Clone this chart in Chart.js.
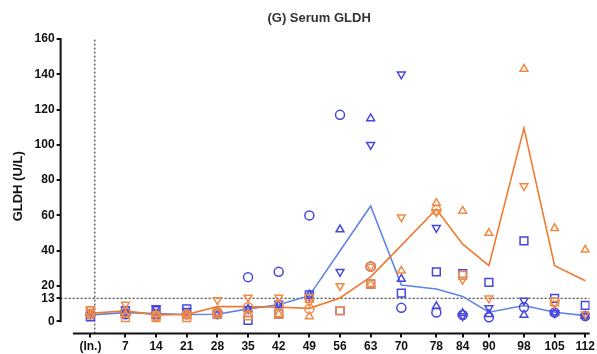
<!DOCTYPE html>
<html>
<head>
<meta charset="utf-8">
<script src="https://cdn.jsdelivr.net/npm/chart.js@4.4.1/dist/chart.umd.min.js"></script>
<style>
  body { margin: 0; background: #fff; }
</style>
</head>
<body>
<canvas id="gldhChart" width="597" height="354"></canvas>
<script>
// days after inoculation; -1 stands for the (In.) baseline
const days = [-1, 7, 14, 21, 28, 35, 42, 49, 56, 63, 70, 78, 84, 90, 98, 105, 112];

const yTicks = [0, 13, 20, 40, 60, 80, 100, 120, 140, 160];

// blue group, individual animals
const blueCircle   = [4, 4, 4, 4, 5, 25, 28, 60, 117, 31, 7.6, 5, 3.5, 2.3, 7.9, 5, 3];
const blueSquare   = [2.5, 6, 6, 7, 4, 0.5, 4, 15, 6, 21, 16, 28, 27, 22, 45.6, 13, 9];
const blueTriUp    = [4, 5, 3, 3, 4, 7, 9, 15, 52, 115, 24, 8.5, 4.5, 4, 3.6, 5, 3];
const blueTriDown  = [5, 5, 7.5, 6, 4, 7, 10, 14, 28, 100, 140, 53, 3, 7.5, 11.7, 4.7, 3];
const blueLine     = [3.6, 4.9, 4.3, 3.8, 4, 7, 9.4, 14.5, 40, 65.3, 20.5, 18.3, 14.1, 5.1, 8.9, 5.1, 3.2];

// orange group, individual animals
const orangeCircle  = [4, 5, 3, 4, 5, 8, 9, 7, null, 31, null, 63, null, null, null, null, null];
const orangeSquare  = [6, 2, 2, 2, 4, 3, 4, 13, 6, 21, null, null, 26, null, null, 11, null];
const orangeTriUp   = [4, 4, 4, 3, 5, 4, 4, 2.7, null, 21, 28.6, 67, 62.5, 50, 143, 52.7, 40.5];
const orangeTriDown = [7, 9.5, 4, 4, 12, 13.5, 13.5, 11, 20, 31, 59, 62, 23.5, 13, 76.6, 10, 4];
const orangeLine    = [4.5, 5.9, 3.6, 3.8, 8.3, 8.3, 7.9, 7.3, 13.2, 25.2, 43, 63.5, 43.7, 31.5, 109.5, 31.5, 23];

const chartTitle = '(G) Serum GLDH';

const BLUE = '#4646e0';
const BLUE_LINE = '#5f86e6';
const ORANGE = '#f08a44';
const ORANGE_LINE = '#f07a32';
const FONT = 'Liberation Sans';

function pts(values) {
    return days.map((d, i) => ({ x: d, y: values[i] }));
}

function markers(values, color, style, rotation) {
    let r = 4.5;
    if (style === 'rect') r = 5.5;
    return {
        data: pts(values),
        showLine: false,
        pointStyle: style,
        pointRotation: rotation || 0,
        pointRadius: r,
        pointBorderWidth: 1.5,
        borderColor: color,
        backgroundColor: 'rgba(0,0,0,0)',
        order: 1
    };
}

function medianLine(values, color) {
    return {
        data: pts(values),
        showLine: true,
        borderColor: color,
        borderWidth: 1.6,
        pointRadius: 0,
        tension: 0,
        order: 2
    };
}

function refLine(points) {
    return {
        data: points,
        showLine: true,
        borderColor: '#444',
        borderWidth: 1.2,
        borderDash: [2, 2],
        pointRadius: 0,
        order: 3
    };
}

// Prism-style axis lines that stop at the data range, plus the title over the plot area
const axisLines = {
    id: 'axisLines',
    afterDraw(chart) {
        const { ctx, chartArea, scales } = chart;
        ctx.save();
        ctx.strokeStyle = '#111';
        ctx.lineWidth = 2;
        ctx.beginPath();
        ctx.moveTo(chartArea.left, scales.y.getPixelForValue(0) + 1);
        ctx.lineTo(chartArea.left, scales.y.getPixelForValue(160) - 1);
        ctx.moveTo(scales.x.getPixelForValue(-5), chartArea.bottom);
        ctx.lineTo(chartArea.right, chartArea.bottom);
        ctx.stroke();

        ctx.fillStyle = '#333';
        ctx.font = 'bold 13px "' + FONT + '"';
        ctx.textAlign = 'center';
        ctx.textBaseline = 'middle';
        ctx.fillText(chartTitle, (chartArea.left + chartArea.right) / 2 - 6, 18);
        ctx.restore();
    }
};

new Chart(document.getElementById('gldhChart'), {
    type: 'scatter',
    data: {
        datasets: [
            refLine([{ x: -7.8, y: 13 }, { x: 113, y: 13 }]),
            refLine([{ x: 0, y: -7 }, { x: 0, y: 160 }]),
            medianLine(orangeLine, ORANGE_LINE),
            medianLine(blueLine, BLUE_LINE),
            markers(orangeCircle, ORANGE, 'circle'),
            markers(orangeSquare, ORANGE, 'rect'),
            markers(orangeTriUp, ORANGE, 'triangle'),
            markers(orangeTriDown, ORANGE, 'triangle', 180),
            markers(blueCircle, BLUE, 'circle'),
            markers(blueSquare, BLUE, 'rect'),
            markers(blueTriUp, BLUE, 'triangle'),
            markers(blueTriDown, BLUE, 'triangle', 180)
        ]
    },
    options: {
        responsive: false,
        animation: false,
        layout: { padding: { left: 11, right: 5, top: 39, bottom: -2 } },
        plugins: {
            legend: { display: false },
            tooltip: { enabled: false },
            title: { display: false }
        },
        scales: {
            x: {
                type: 'linear',
                min: -7.8,
                max: 113,
                afterBuildTicks: (scale) => {
                    scale.ticks = days.map(v => ({ value: v }));
                },
                ticks: {
                    autoSkip: false,
                    maxRotation: 0,
                    padding: 2,
                    color: '#111',
                    font: { family: FONT, size: 12, weight: 'bold' },
                    callback: (v) => v === -1 ? '(In.)' : v
                },
                grid: { drawOnChartArea: false, tickLength: 4, lineWidth: 2, color: '#111' },
                border: { display: false }
            },
            y: {
                type: 'linear',
                min: -7,
                max: 160,
                afterBuildTicks: (scale) => {
                    scale.ticks = yTicks.map(v => ({ value: v }));
                },
                ticks: {
                    padding: 2,
                    color: '#111',
                    font: { family: FONT, size: 12, weight: 'bold' }
                },
                grid: { drawOnChartArea: false, tickLength: 4, lineWidth: 2, color: '#111' },
                border: { display: false },
                title: {
                    display: true,
                    text: 'GLDH (U/L)',
                    color: '#111',
                    font: { family: FONT, size: 13, weight: 'bold' },
                    padding: { top: 0, bottom: 6 }
                }
            }
        }
    },
    plugins: [axisLines]
});
</script>
</body>
</html>
